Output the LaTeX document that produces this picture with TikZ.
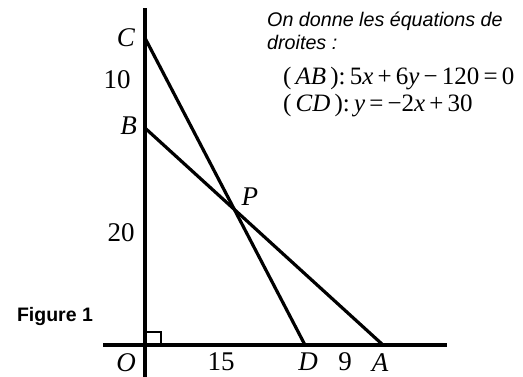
\documentclass[tikz,border=0pt]{standalone}
\usepackage{fontspec}
\setmainfont{Liberation Serif}
\newfontfamily\notefont{Liberation Sans}
\usetikzlibrary{positioning}

\begin{document}
\begin{tikzpicture}[
    x=1pt, y=-1pt,
    axis/.style={line width=3.6pt},
    seg/.style={line width=3.2pt},
    ptlabel/.style={font=\fontsize{27}{31}\selectfont\itshape, inner sep=0pt},
    numlabel/.style={font=\fontsize{27}{31}\selectfont, inner sep=0pt},
    note/.style={font=\notefont\itshape\fontsize{19.7}{23}\selectfont, inner sep=0pt, anchor=base west},
    eqn/.style={font=\fontsize{25}{29}\selectfont, inner sep=0pt, anchor=base west}
]
\useasboundingbox (0,0) rectangle (523,376);

% points of the figure
\coordinate (O) at (145,345);
\coordinate (D) at (305,345);
\coordinate (A) at (383,345);
\coordinate (B) at (145,128);
\coordinate (C) at (145,38);
\coordinate (P) at (intersection of C--D and B--A);
\coordinate (ytop) at (145,8);
\coordinate (ybot) at (145,380);
\coordinate (xleft) at (103,345);
\coordinate (xright) at (447,345);

% axes and right angle
\draw[axis] (ytop) -- (ybot);
\draw[axis] (xleft) -- (xright);
\draw[line width=2.6pt] (O) rectangle ++(16,-13);

% the two lines
\draw[seg] (C) -- (D);
\draw[seg] (B) -- (A);

% point labels
\node[ptlabel, left=10pt of C] (labC) {C};
\node[ptlabel, left=8pt of B, yshift=2pt] (labB) {B};
\node[ptlabel, below left=8pt and 9pt of O] (labO) {O};
\node[ptlabel, below=8pt of D, xshift=3pt] (labD) {D};
\node[ptlabel, below=8pt of A, xshift=-3pt] (labA) {A};
\node[ptlabel, above right=4pt and 7pt of P] (labP) {P};

% lengths
\node[numlabel] (len10) at (117,80) {10};
\node[numlabel] (len20) at (121,233) {20};
\node[numlabel] (len15) at (221,362) {15};
\node[numlabel] (len9) at (345,362) {9};

\node[font=\notefont\bfseries\fontsize{19.5}{23}\selectfont, inner sep=0pt] (fig) at (55,316) {Figure 1};

% given equations
\node[note] (given) at (267,26) {On donne les équations de};
\node[note] (given2) at (267,49) {droites :};
\node[eqn] (eqAB) at (283,84) {(\,\textit{AB}\,):\,5\textit{x}\,+\,6\textit{y}\,−\,120\,=\,0};
\node[eqn] (eqCD) at (283,111) {(\,\textit{CD}\,):\,\textit{y}\,=\,−2\textit{x}\,+\,30};

\end{tikzpicture}
\end{document}
